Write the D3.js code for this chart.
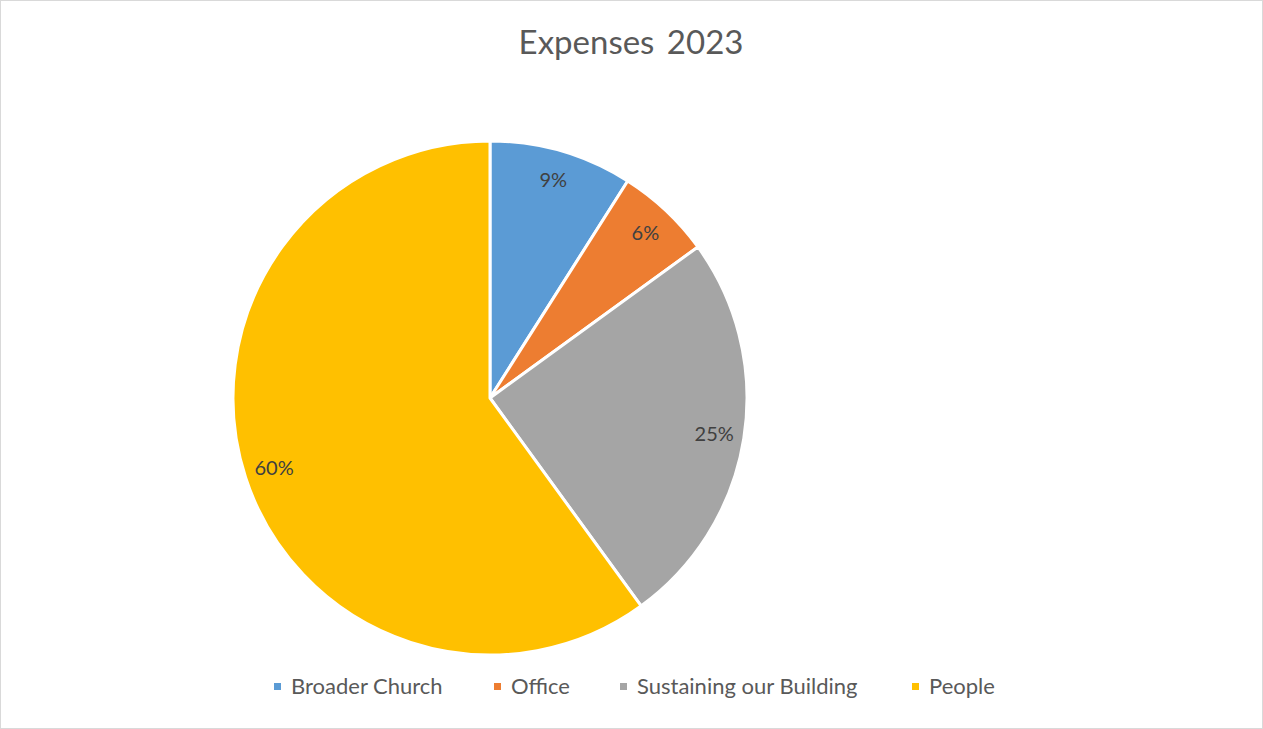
<!DOCTYPE html>
<html>
<head>
<meta charset="utf-8">
<script src="https://cdn.jsdelivr.net/npm/d3@7"></script>
<style>
  body { margin: 0; background: #fff; }
  svg { display: block; font-family: Lato, "Open Sans", sans-serif; }
</style>
</head>
<body>
<svg id="chart" width="1263" height="729"></svg>
<script>
const categories = ['Broader Church', 'Office', 'Sustaining our Building', 'People'];
const values = [9, 6, 25, 60];
const colors = ['#5B9BD5', '#ED7D31', '#A5A5A5', '#FFC000'];

const svg = d3.select('#chart');
const width = 1263, height = 729;

// chart border
svg.append('rect')
  .attr('x', 0.5).attr('y', 0.5)
  .attr('width', width - 1).attr('height', height - 1)
  .attr('fill', '#fff')
  .attr('stroke', '#d9d9d9');

svg.append('text')
  .attr('x', 631).attr('y', 54)
  .attr('text-anchor', 'middle')
  .attr('fill', '#595959')
  .style('font-size', '33px')
  .style('word-spacing', '4px')
  .text('Expenses 2023');

const cx = 490, cy = 398, radius = 257;

const pie = d3.pie().sort(null).value(d => d.value);
const data = pie(categories.map((c, i) => ({ name: c, value: values[i] })));
const total = d3.sum(values);

const arc = d3.arc().innerRadius(0).outerRadius(radius);
const labelArc = d3.arc().innerRadius(227).outerRadius(227);

const g = svg.append('g').attr('transform', `translate(${cx},${cy})`);

g.selectAll('path')
  .data(data)
  .enter().append('path')
  .attr('d', arc)
  .attr('fill', (d, i) => colors[i])
  .attr('stroke', '#fff')
  .attr('stroke-width', 3)
  .attr('stroke-linejoin', 'round');

g.selectAll('text.lbl')
  .data(data)
  .enter().append('text')
  .attr('class', 'lbl')
  .attr('transform', d => `translate(${labelArc.centroid(d)})`)
  .attr('text-anchor', 'middle')
  .attr('dy', '0.36em')
  .attr('fill', '#404040')
  .style('font-size', '20px')
  .text(d => Math.round(d.data.value / total * 100) + '%');

// legend
const legendX = [274, 494, 620, 912];
const legend = svg.append('g');
categories.forEach((c, i) => {
  legend.append('rect')
    .attr('x', legendX[i]).attr('y', 683)
    .attr('width', 7).attr('height', 7)
    .attr('fill', colors[i]);
  legend.append('text')
    .attr('x', legendX[i] + 17).attr('y', 694)
    .attr('fill', '#595959')
    .style('font-size', '22px')
    .text(c);
});
</script>
</body>
</html>
